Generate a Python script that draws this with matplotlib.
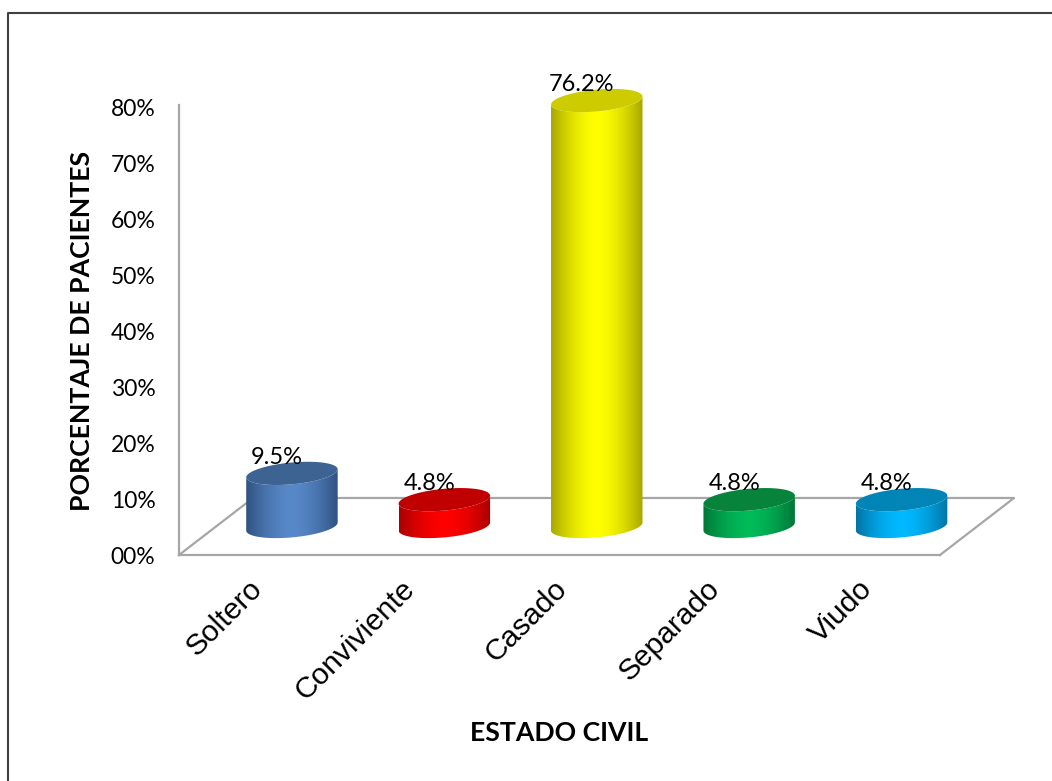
import numpy as np
import matplotlib
matplotlib.use('Agg')
import matplotlib.pyplot as plt
from matplotlib.lines import Line2D
from matplotlib.patches import Polygon
from matplotlib.transforms import ScaledTranslation
from matplotlib.colors import to_rgb

categorias = ['Soltero', 'Conviviente', 'Casado', 'Separado', 'Viudo']
porcentajes = [9.5, 4.8, 76.2, 4.8, 4.8]
etiquetas = ['9.5%', '4.8%', '76.2%', '4.8%', '4.8%']
yticks = [0, 10, 20, 30, 40, 50, 60, 70, 80]
ylabels = ['00%', '10%', '20%', '30%', '40%', '50%', '60%', '70%', '80%']

# colores de cada cilindro: centro, borde, tapa
c_centro = ['#5788C8', '#FF0000', '#FFFF00', '#00BA58', '#00B9FF']
c_borde = ['#2F5180', '#A80000', '#A6A600', '#007638', '#0073A3']
c_tapa = ['#3C6391', '#C00000', '#CCCC00', '#07833B', '#0085B6']

W, H = 1052, 781
GRIS = '#A6A6A6'
TEXTO = 'Lato'

fig = plt.figure(figsize=(W / 100, H / 100), dpi=100)
ax = fig.add_axes([179 / W, (H - 555) / H, (940 - 179) / W, (555 - 105) / H])
xlim = (-0.741, 4.252)
ylim = (0, 80.5)

# marco exterior
fig.add_artist(Line2D([8 / W, 8 / W, 1], [0, 1 - 13 / H, 1 - 13 / H], color='#404040', lw=1.5))

# piso en perspectiva
prof_x, prof_y = 0.486, 10.2
ax.plot([xlim[0], xlim[0] + prof_x, xlim[1] + prof_x, xlim[1]], [0, prof_y, prof_y, 0],
        color=GRIS, lw=1.6, clip_on=False, zorder=1)

for s in ['top', 'right']:
    ax.spines[s].set_visible(False)
for s in ['left', 'bottom']:
    ax.spines[s].set_color(GRIS)
    ax.spines[s].set_linewidth(1.6)

# cilindros
base = 5.1
a, b, k = 0.30, 1.95, 0.72
t = np.linspace(np.pi, 2 * np.pi, 121)
t_full = np.linspace(0, 2 * np.pi, 181)
u = np.linspace(-1, 1, 181)
for i, v in enumerate(porcentajes):
    dx = a * np.cos(t)
    dy = b * np.sin(t) + k * np.cos(t)
    centro = np.array(to_rgb(c_centro[i]))
    borde = np.array(to_rgb(c_borde[i]))
    grad = centro + (borde - centro) * (np.abs(u)[:, None] ** 1.7)
    # cuerpo: degradado horizontal recortado con la silueta del cilindro
    silueta = np.vstack([np.column_stack([i + dx, base + dy]),
                         np.column_stack([i + dx[::-1], base + v + dy[::-1]])])
    forma = Polygon(silueta, closed=True, transform=ax.transData, fc='none', ec='none')
    ax.add_patch(forma)
    y_min, y_max = base - b - k, base + v + b + k
    im = ax.imshow(grad[None, :, :], extent=(i - a, i + a, y_min, y_max), aspect='auto',
                   origin='lower', interpolation='bilinear', zorder=2)
    im.set_clip_box(fig.bbox)  # el cilindro sale de los ejes por arriba y por la derecha
    im.set_clip_path(forma)
    ax.fill(i + a * np.cos(t_full), base + v + b * np.sin(t_full) + k * np.cos(t_full),
            color=c_tapa[i], lw=0, clip_on=False, zorder=3)
    ax.annotate(etiquetas[i], xy=(i, base + v), xytext=(-10.8, 11.5), textcoords='offset points',
                ha='center', va='center', fontsize=17, family=TEXTO, color='black', zorder=4,
                annotation_clip=False)

ax.set_xlim(xlim)
ax.set_ylim(ylim)
ax.set_yticks(yticks)
ax.set_yticklabels(ylabels, fontsize=16.5, family=TEXTO)
ax.tick_params(axis='y', length=0, pad=17)

ax.set_xticks(range(len(categorias)))
ax.set_xticklabels(categorias, rotation=45, ha='right', va='top', rotation_mode='anchor',
                   fontsize=21.5, family='Liberation Sans')
ax.tick_params(axis='x', length=0, pad=14)
desplaza = ScaledTranslation(-44 / 100, 0, fig.dpi_scale_trans)
for lab in ax.get_xticklabels():
    lab.set_transform(lab.get_transform() + desplaza)

fig.text(82 / W, 1 - 331 / H, 'PORCENTAJE DE PACIENTES', rotation=90, ha='center', va='center',
         fontsize=19.2, fontweight='bold', family=TEXTO)
fig.text(559 / W, 1 - 733 / H, 'ESTADO CIVIL', ha='center', va='center',
         fontsize=19.2, fontweight='bold', family=TEXTO)

fig.savefig('out.png', dpi=100)
